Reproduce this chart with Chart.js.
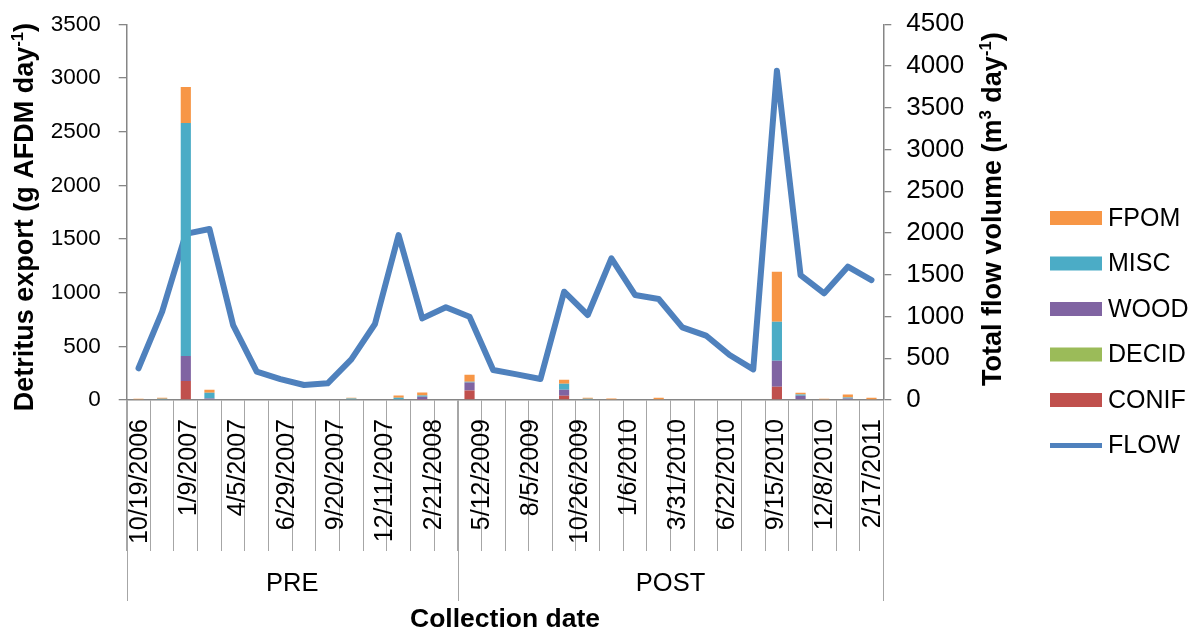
<!DOCTYPE html>
<html><head><meta charset="utf-8">
<script src="https://cdn.jsdelivr.net/npm/chart.js@4.4.1/dist/chart.umd.min.js"></script>
<style>html,body{margin:0;padding:0;background:#fff;}#wrap{width:1190px;height:631px;position:relative;}canvas{display:block;}</style>
</head><body><div id="wrap"><canvas id="c" width="1190" height="631"></canvas></div>
<script>
// ---- data ----
const categories = ['10/19/2006','','1/9/2007','','4/5/2007','','6/29/2007','','9/20/2007','','12/11/2007','','2/21/2008','',
  '5/12/2009','','','8/5/2009','','10/26/2009','','1/6/2010','','3/31/2010','','6/22/2010','','9/15/2010','','12/8/2010','','2/17/2011'];
const tickLabels = ['10/19/2006','1/9/2007','4/5/2007','6/29/2007','9/20/2007','12/11/2007','2/21/2008',
  '5/12/2009','8/5/2009','10/26/2009','1/6/2010','3/31/2010','6/22/2010','9/15/2010','12/8/2010','2/17/2011'];
const groupLabels = ['PRE','POST'];
const groupSizes = [14, 18];
const conif = [0,0,177,0,0,0,0,0,0,0,0,0,5,0, 89,0,0,0,40,0,0,0,0,0,0,0,0,124,0,0,0,0];
const decid = [0,0,0,0,0,0,0,0,0,0,0,0,0,0, 0,0,0,0,0,0,0,0,0,0,0,0,0,0,0,0,0,0];
const wood  = [0,0,233,15,0,0,0,0,0,0,0,0,25,0, 75,0,0,0,56,0,0,0,0,0,0,0,0,242,40,0,15,0];
const misc  = [0,12,2170,52,0,0,0,0,0,14,0,22,12,0, 6,0,0,0,56,12,0,0,0,0,0,0,0,363,12,0,8,0];
const fpom  = [12,8,335,28,0,0,0,0,0,8,0,20,28,0, 65,0,0,0,37,8,14,0,22,0,0,0,0,466,16,12,28,20];
const flow  = [380,1058,1990,2048,898,339,251,180,200,487,910,1976,978,1110,
  998,359,307,251,1297,1018,1697,1258,1210,870,772,539,367,3944,1497,1278,1597,1437];

const FF = '"Liberation Sans", Arial, Helvetica, sans-serif';
const AXIS = '#868686';
const TICKLINE = '#a6a6a6';

function richText(ctx, parts, size, bold){
  const w = (t, s) => { ctx.font = (bold?'bold ':'') + s + 'px ' + FF; return ctx.measureText(t).width; };
  let total = 0;
  parts.forEach(p => { total += w(p.t, p.sup ? size*0.62 : size); });
  let x = -total/2;
  ctx.textAlign = 'left';
  ctx.textBaseline = 'alphabetic';
  parts.forEach(p => {
    const s = p.sup ? size*0.62 : size;
    ctx.font = (bold?'bold ':'') + s + 'px ' + FF;
    ctx.fillText(p.t, x, p.sup ? -size*0.38 : 0);
    x += ctx.measureText(p.t).width;
  });
}

const decor = {
  id: 'decor',
  afterDraw(chart){
    const ctx = chart.ctx;
    const xs = chart.scales.x;
    const area = chart.chartArea;
    ctx.save();
    ctx.fillStyle = '#000';
    // date labels (rotated)
    ctx.font = '25px ' + FF;
    const n = tickLabels.length;
    tickLabels.forEach((lab, k) => {
      const v = k * (categories.length - 1) / (n - 1);
      const x = xs.getPixelForValue(v) + 2;
      ctx.save();
      ctx.translate(x, area.bottom + 19);
      ctx.rotate(-Math.PI/2);
      ctx.textAlign = 'right';
      ctx.textBaseline = 'middle';
      ctx.fillText(lab, 0, 0);
      ctx.restore();
    });
    // group separators & labels
    ctx.strokeStyle = TICKLINE;
    ctx.lineWidth = 1;
    let start = 0;
    const bounds = [0];
    groupSizes.forEach(s => { start += s; bounds.push(start); });
    bounds.forEach(b => {
      const x = Math.round(xs.getPixelForValue(b - 0.5)) + 0.5;
      ctx.beginPath(); ctx.moveTo(x, area.bottom); ctx.lineTo(x, 601); ctx.stroke();
    });
    ctx.font = '25.5px ' + FF;
    ctx.textAlign = 'center';
    ctx.textBaseline = 'middle';
    groupLabels.forEach((g, i) => {
      const x0 = xs.getPixelForValue(bounds[i] - 0.5), x1 = xs.getPixelForValue(bounds[i+1] - 0.5);
      ctx.fillText(g, (x0 + x1)/2, 584);
    });
    // x title
    ctx.font = 'bold 26.5px ' + FF;
    ctx.fillText('Collection date', (area.left + area.right)/2, 620);
    // left title
    ctx.save();
    ctx.translate(33, (area.top + area.bottom)/2 + 5);
    ctx.rotate(-Math.PI/2);
    richText(ctx, [{t:'Detritus export (g AFDM day'},{t:'-1',sup:true},{t:')'}], 27, true);
    ctx.restore();
    // right title
    ctx.save();
    ctx.translate(1001, (area.top + area.bottom)/2 - 3);
    ctx.rotate(-Math.PI/2);
    richText(ctx, [{t:'Total flow volume (m'},{t:'3',sup:true},{t:' day'},{t:'-1',sup:true},{t:')'}], 27, true);
    ctx.restore();
    // legend
    const ds = chart.data.datasets;
    const bars = ds.filter(d => d.type !== 'line').slice().reverse();
    const lines = ds.filter(d => d.type === 'line');
    const items = bars.concat(lines);
    ctx.font = '25px ' + FF;
    ctx.textAlign = 'left';
    ctx.textBaseline = 'middle';
    items.forEach((d, i) => {
      const y = 218 + i * 45.5;
      if (d.type === 'line') {
        ctx.strokeStyle = d.borderColor; ctx.lineWidth = 5;
        ctx.beginPath(); ctx.moveTo(1050, y); ctx.lineTo(1102, y); ctx.stroke();
      } else {
        ctx.fillStyle = d.backgroundColor;
        ctx.fillRect(1050, y - 7, 52, 14);
      }
      ctx.fillStyle = '#000';
      ctx.fillText(d.label, 1108, y + 1);
    });
    ctx.restore();
  }
};

const plain = v => String(v);
const fixY = w => (s) => { s.width = w; s.paddingTop = 0; s.paddingBottom = 0; };
const barCommon = {type:'bar', yAxisID:'y', stack:'s', barPercentage:0.43, categoryPercentage:1, borderWidth:0};
new Chart(document.getElementById('c'), {
  type: 'bar',
  data: {
    labels: categories,
    datasets: [
      Object.assign({label:'CONIF', data:conif, backgroundColor:'#C0504D'}, barCommon),
      Object.assign({label:'DECID', data:decid, backgroundColor:'#9BBB59'}, barCommon),
      Object.assign({label:'WOOD', data:wood, backgroundColor:'#8064A2'}, barCommon),
      Object.assign({label:'MISC', data:misc, backgroundColor:'#4BACC6'}, barCommon),
      Object.assign({label:'FPOM', data:fpom, backgroundColor:'#F79646'}, barCommon),
      {type:'line', label:'FLOW', data:flow, yAxisID:'y1', borderColor:'#4F81BD', backgroundColor:'#4F81BD',
       borderWidth:6, pointRadius:0, pointHoverRadius:0, tension:0, fill:false, borderJoinStyle:'round', borderCapStyle:'round'}
    ]
  },
  options: {
    responsive: false,
    animation: false,
    devicePixelRatio: 1,
    layout: {padding: {left: 50.7, right: 206.7, top: 24.3, bottom: 80}},
    plugins: {legend: {display: false}, tooltip: {enabled: false}},
    scales: {
      x: {
        type: 'category', stacked: true, offset: true,
        grid: {offset: true, drawOnChartArea: false, drawTicks: true, tickLength: 151, color: TICKLINE, lineWidth: 1},
        border: {display: true, color: AXIS, width: 1.5},
        ticks: {display: false, autoSkip: false}
      },
      y: {
        position: 'left', stacked: true, min: 0, max: 3500,
        ticks: {stepSize: 500, color: '#000', font: {family: FF, size: 22.5}, padding: 18, callback: plain},
        grid: {drawOnChartArea: false, tickLength: 8, color: AXIS, lineWidth: 1.3},
        border: {display: true, color: AXIS, width: 1.5},
        afterFit: fixY(76)
      },
      y1: {
        position: 'right', min: 0, max: 4500,
        ticks: {stepSize: 500, color: '#000', font: {family: FF, size: 26}, padding: 15, callback: plain},
        grid: {drawOnChartArea: false, tickLength: 8, color: AXIS, lineWidth: 1.3},
        border: {display: true, color: AXIS, width: 1.5},
        afterFit: fixY(100)
      }
    }
  },
  plugins: [decor]
});
</script>
</body></html>
